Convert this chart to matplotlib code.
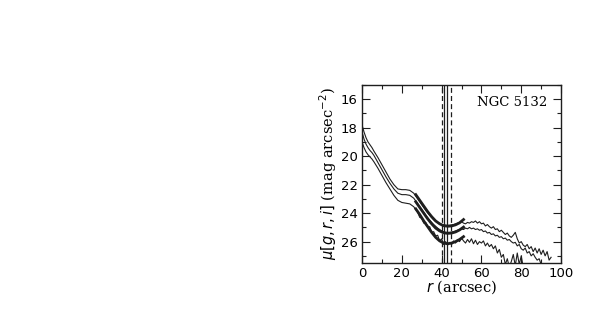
import numpy as np
import matplotlib
matplotlib.use("Agg")
import matplotlib.pyplot as plt
from matplotlib.ticker import MultipleLocator

# surface brightness profiles (thin, observed)
r_top = [0, 1, 2, 3, 4, 5, 6, 8, 10, 12, 14, 16, 18, 20, 22, 24, 26, 28, 30, 32, 34, 36, 38, 40,
         42, 44, 46, 48, 50, 51, 52, 53, 54, 55, 56, 57, 58, 59, 60, 61, 62, 63, 64, 65, 66, 67,
         68, 69, 70, 71, 72, 73, 74, 75, 76, 77, 78, 79, 80, 81, 82, 83, 84, 85, 86, 87, 88, 89,
         90, 91, 92, 93, 94, 95]
mu_top = [17.8, 18.3, 18.7, 19.0, 19.2, 19.4, 19.65, 20.1, 20.6, 21.1, 21.6, 22.0, 22.3, 22.35,
          22.35, 22.4, 22.6, 23.0, 23.4, 23.8, 24.15, 24.45, 24.65, 24.8, 24.85, 24.85, 24.8,
          24.7, 24.6, 24.7, 24.75, 24.65, 24.7, 24.6, 24.65, 24.55, 24.7, 24.6, 24.75, 24.7,
          24.9, 24.8, 24.95, 25.05, 24.95, 25.15, 25.1, 25.3, 25.2, 25.35, 25.5, 25.4, 25.6,
          25.7, 25.55, 25.35, 25.8, 26.1, 26.0, 26.25, 26.35, 26.2, 26.5, 26.35, 26.7, 26.45,
          26.8, 26.5, 26.9, 26.6, 27.0, 26.7, 27.3, 27.1]

r_mid = [0, 1, 2, 3, 4, 5, 6, 8, 10, 12, 14, 16, 18, 20, 22, 24, 26, 28, 30, 32, 34, 36, 38, 40,
         42, 44, 46, 48, 50, 51, 52, 53, 54, 55, 56, 57, 58, 59, 60, 61, 62, 63, 64, 65, 66, 67,
         68, 69, 70, 71, 72, 73, 74, 75, 76, 77, 78, 79, 80, 81, 82, 83, 84, 85, 86, 87, 88, 89, 90]
mu_mid = [18.3, 18.8, 19.15, 19.4, 19.6, 19.75, 19.95, 20.45, 20.95, 21.45, 21.9, 22.3, 22.6,
          22.7, 22.7, 22.75, 22.95, 23.35, 23.75, 24.15, 24.5, 24.8, 25.05, 25.25, 25.35, 25.35,
          25.3, 25.2, 25.1, 25.15, 25.05, 25.1, 25.0, 25.1, 25.05, 25.15, 25.1, 25.2, 25.15,
          25.3, 25.25, 25.4, 25.35, 25.5, 25.45, 25.6, 25.55, 25.7, 25.65, 25.8, 25.75, 25.9,
          25.85, 26.0, 26.1, 26.05, 26.3, 26.2, 26.5, 26.6, 26.45, 26.8, 26.7, 27.0, 26.85,
          27.1, 27.3, 27.2, 27.6]

r_bot = [0, 1, 2, 3, 4, 5, 6, 8, 10, 12, 14, 16, 18, 20, 22, 24, 26, 28, 29, 30, 31, 32, 33, 34,
         35, 36, 37, 38, 39, 40, 41, 42, 43, 44, 45, 46, 47, 48, 49, 50, 51, 52, 53, 54, 55, 56,
         57, 58, 59, 60, 61, 62, 63, 64, 65, 66, 67, 68, 69, 70, 71, 72, 73, 74, 75, 76, 77, 78,
         79, 80, 81, 82]
mu_bot = [19.0, 19.4, 19.7, 19.9, 20.05, 20.2, 20.4, 20.85, 21.35, 21.85, 22.3, 22.75, 23.1,
          23.25, 23.3, 23.35, 23.55, 23.95, 24.3, 24.35, 24.7, 24.65, 25.0, 24.95, 25.35, 25.3,
          25.6, 25.55, 25.95, 25.8, 26.2, 26.0, 26.25, 26.05, 26.2, 25.95, 26.1, 25.85, 26.0,
          25.75, 25.95, 26.1, 25.85, 26.05, 25.8, 26.15, 25.9, 26.2, 26.0, 26.1, 25.95, 26.3,
          26.1, 26.35, 26.2, 26.5, 26.3, 26.8, 26.55, 27.1, 26.9, 27.6, 27.2, 27.8, 27.4, 26.9,
          27.7, 26.8, 27.6, 27.0, 27.8, 27.6]

# model fits (thick)
r_fit = [27, 29, 31, 33, 35, 37, 39, 41, 43, 45, 47, 49, 51]
fit_top = [22.7, 23.1, 23.5, 23.9, 24.25, 24.55, 24.75, 24.88, 24.92, 24.9, 24.82, 24.68, 24.45]
fit_mid = [23.2, 23.6, 24.0, 24.4, 24.75, 25.05, 25.25, 25.38, 25.42, 25.4, 25.32, 25.18, 24.98]
fit_bot = [23.7, 24.1, 24.55, 24.95, 25.35, 25.7, 25.95, 26.1, 26.15, 26.1, 26.0, 25.85, 25.65]

r_solid = [41.0, 42.5]
r_dashed = [40.0, 44.6]

col = "#1e1e1e"
fig = plt.figure(figsize=(5.98, 3.18), dpi=100)
ax = fig.add_axes([0.6054, 0.173, 0.3328, 0.5597])

for rr, mm in [(r_top, mu_top), (r_mid, mu_mid), (r_bot, mu_bot)]:
    ax.plot(rr, mm, color=col, lw=0.8)
for ff in [fit_top, fit_mid, fit_bot]:
    ax.plot(r_fit, ff, color=col, lw=2.0)
for x in r_solid:
    ax.axvline(x, color=col, lw=0.9)
for x in r_dashed:
    ax.axvline(x, color=col, lw=0.9, ls=(0, (4, 2.5)))

ax.set_xlim(0, 100)
ax.set_ylim(27.5, 15.0)
ax.xaxis.set_major_locator(MultipleLocator(20))
ax.xaxis.set_minor_locator(MultipleLocator(10))
ax.yaxis.set_major_locator(MultipleLocator(2))
ax.yaxis.set_minor_locator(MultipleLocator(1))
ax.set_yticks([16, 18, 20, 22, 24, 26])
ax.tick_params(which="both", direction="in", top=True, right=True, labelsize=9.5, color=col)
ax.tick_params(which="major", length=6, width=0.8, pad=3)
ax.tick_params(which="minor", length=3, width=0.8)
for s in ax.spines.values():
    s.set_linewidth(1.0)
    s.set_color(col)

ax.set_xlabel(r"$r$ (arcsec)", fontsize=10.5, family="DejaVu Serif", labelpad=-1)
ax.set_ylabel(r"$\mu[g,r,i]$ (mag arcsec$^{-2}$)", fontsize=10.5, family="DejaVu Serif", labelpad=1)
ax.text(0.93, 0.9, "NGC 5132", transform=ax.transAxes, ha="right", va="center",
        fontsize=9.5, family="DejaVu Serif")

fig.savefig("out.png", dpi=100)
